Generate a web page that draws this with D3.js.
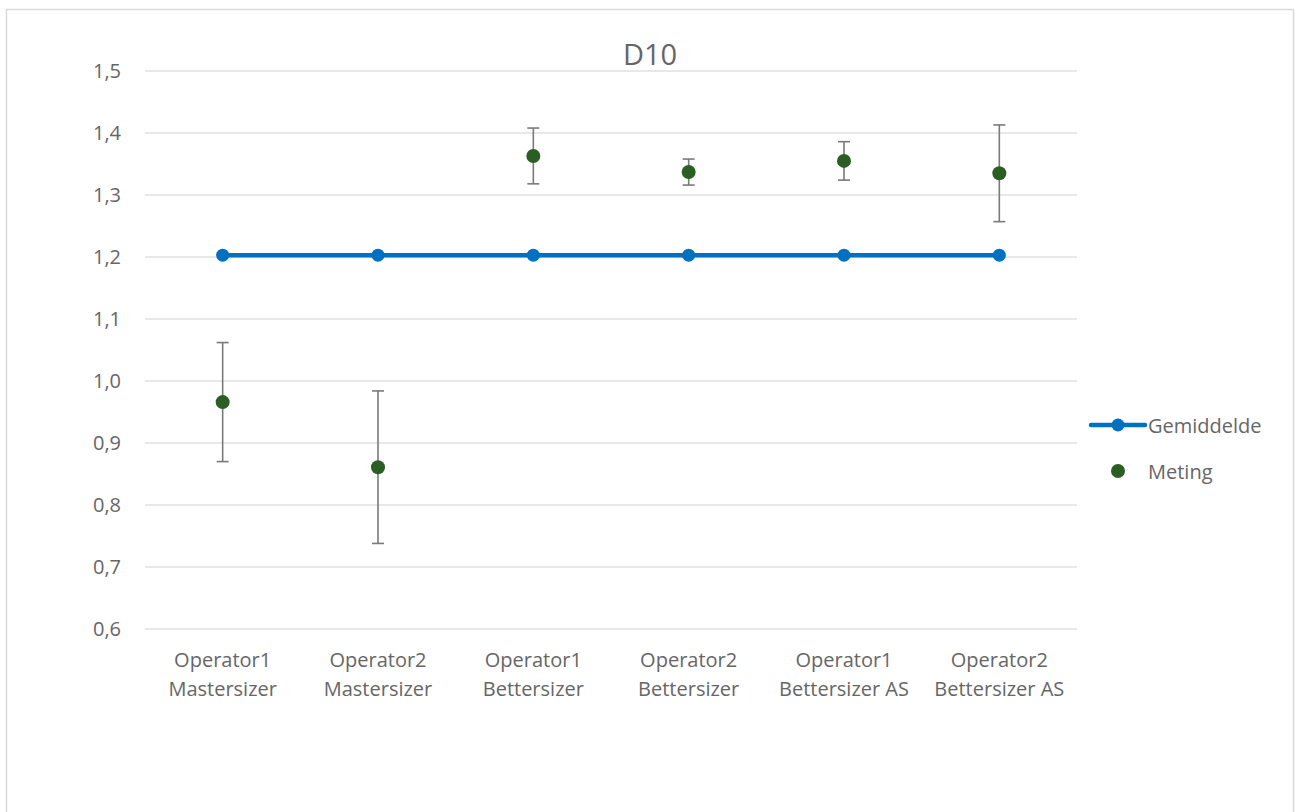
<!DOCTYPE html>
<html>
<head>
<meta charset="utf-8">
<script src="https://cdn.jsdelivr.net/npm/d3@7"></script>
<style>
  html, body { margin: 0; padding: 0; background: #fff; }
  svg { display: block; font-family: "Open Sans", "Noto Sans", sans-serif; }
</style>
</head>
<body>
<svg id="chart" width="1295" height="812"></svg>
<script>
// Categories (two-line labels)
const categories = [
  ["Operator1", "Mastersizer"],
  ["Operator2", "Mastersizer"],
  ["Operator1", "Bettersizer"],
  ["Operator2", "Bettersizer"],
  ["Operator1", "Bettersizer AS"],
  ["Operator2", "Bettersizer AS"]
];
// Mean reference value per category
const gemiddelde = [1.203, 1.203, 1.203, 1.203, 1.203, 1.203];
// Measured values and their error (±)
const meting = [0.966, 0.861, 1.363, 1.337, 1.355, 1.335];
const metingErr = [0.096, 0.123, 0.045, 0.021, 0.031, 0.078];
// Y-axis ticks
const yTicks = [0.6, 0.7, 0.8, 0.9, 1.0, 1.1, 1.2, 1.3, 1.4, 1.5];

const svg = d3.select("#chart");
const plot = { left: 145, right: 1077, top: 71, bottom: 629 };
const textColor = "#666666";
const fontSize = 20;

// Chart frame
svg.append("rect")
  .attr("x", 6.5).attr("y", 9.5)
  .attr("width", 1287).attr("height", 830)
  .attr("fill", "#fff")
  .attr("stroke", "#d9d9d9").attr("stroke-width", 1.5);

const x = d3.scaleBand()
  .domain(d3.range(categories.length))
  .range([plot.left, plot.right]);
const y = d3.scaleLinear().domain([0.6, 1.5]).range([plot.bottom, plot.top]);
const cx = i => x(i) + x.bandwidth() / 2;

// Gridlines
svg.append("g")
  .selectAll("line").data(yTicks).join("line")
  .attr("x1", plot.left).attr("x2", plot.right)
  .attr("y1", d => y(d)).attr("y2", d => y(d))
  .attr("stroke", "#e0e0e0").attr("stroke-width", 1.3);

// Y axis labels
const fmt = d => d3.format(".1f")(d).replace(".", ",");
svg.append("g")
  .selectAll("text").data(yTicks).join("text")
  .attr("x", 121).attr("y", d => y(d))
  .attr("dy", "0.36em")
  .attr("text-anchor", "end")
  .attr("fill", textColor)
  .attr("font-size", fontSize)
  .text(fmt);

// X axis labels
const xl = svg.append("g")
  .selectAll("text").data(categories).join("text")
  .attr("x", (d, i) => cx(i))
  .attr("y", 667)
  .attr("text-anchor", "middle")
  .attr("fill", textColor)
  .attr("font-size", fontSize);
xl.append("tspan").attr("x", (d, i) => cx(i)).attr("dy", 0).text(d => d[0]);
xl.append("tspan").attr("x", (d, i) => cx(i)).attr("dy", 29).text(d => d[1]);

// Title
svg.append("text")
  .attr("x", 650).attr("y", 65)
  .attr("text-anchor", "middle")
  .attr("fill", textColor)
  .attr("font-size", 29)
  .text("D10");

// Mean line
const blue = "#0070c0";
svg.append("path")
  .datum(gemiddelde)
  .attr("d", d3.line().x((d, i) => cx(i)).y(d => y(d)))
  .attr("fill", "none")
  .attr("stroke", blue)
  .attr("stroke-width", 4.5);
svg.append("g")
  .selectAll("circle").data(gemiddelde).join("circle")
  .attr("cx", (d, i) => cx(i)).attr("cy", d => y(d))
  .attr("r", 6.5).attr("fill", blue);

// Error bars
const errColor = "#7a7a7a";
const eb = svg.append("g").attr("stroke", errColor).attr("stroke-width", 1.6);
meting.forEach((v, i) => {
  const lo = y(v - metingErr[i]), hi = y(v + metingErr[i]);
  eb.append("line").attr("x1", cx(i)).attr("x2", cx(i)).attr("y1", lo).attr("y2", hi);
  eb.append("line").attr("x1", cx(i) - 6).attr("x2", cx(i) + 6).attr("y1", lo).attr("y2", lo);
  eb.append("line").attr("x1", cx(i) - 6).attr("x2", cx(i) + 6).attr("y1", hi).attr("y2", hi);
});

// Measurement points
const green = "#2a5e23";
svg.append("g")
  .selectAll("circle").data(meting).join("circle")
  .attr("cx", (d, i) => cx(i)).attr("cy", d => y(d))
  .attr("r", 7).attr("fill", green);

// Legend
const lg = svg.append("g");
lg.append("line").attr("x1", 1091).attr("x2", 1145).attr("y1", 425).attr("y2", 425)
  .attr("stroke", blue).attr("stroke-width", 4.5).attr("stroke-linecap", "round");
lg.append("circle").attr("cx", 1118).attr("cy", 425).attr("r", 6.5).attr("fill", blue);
lg.append("text").attr("x", 1148).attr("y", 426).attr("dy", "0.36em")
  .attr("fill", textColor).attr("font-size", fontSize).text("Gemiddelde");
lg.append("circle").attr("cx", 1118).attr("cy", 471).attr("r", 7).attr("fill", green);
lg.append("text").attr("x", 1148).attr("y", 472).attr("dy", "0.36em")
  .attr("fill", textColor).attr("font-size", fontSize).text("Meting");
</script>
</body>
</html>
